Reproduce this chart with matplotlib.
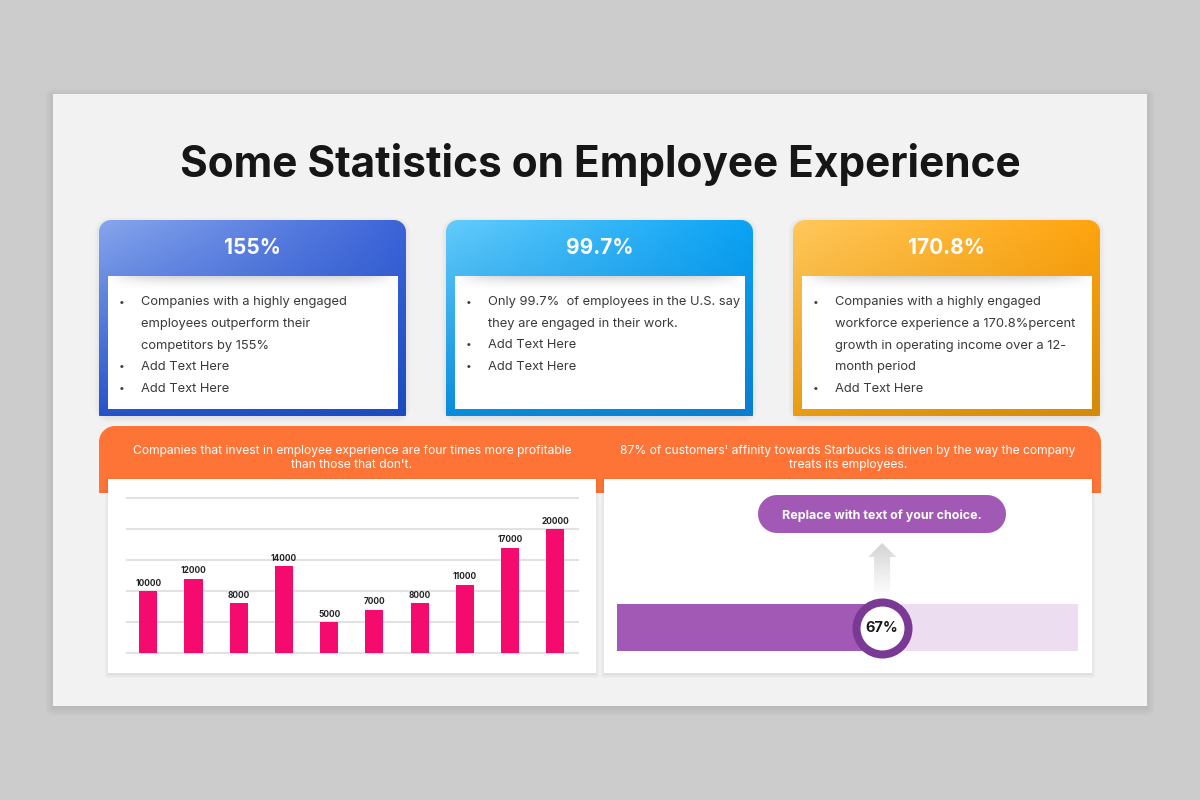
import numpy as np
import matplotlib
matplotlib.use("Agg")
import matplotlib.pyplot as plt
from matplotlib.patches import Polygon
from matplotlib.colors import to_rgba

plt.rcParams['font.family'] = ['Inter', 'DejaVu Sans']

# ---------------- data ----------------
title = "Some Statistics on Employee Experience"
card_titles = ["155%", "99.7%", "170.8%"]
card1_lines = [(True, "Companies with a highly engaged"), (False, "employees outperform their"),
               (False, "competitors by 155%"), (True, "Add Text Here"), (True, "Add Text Here")]
card2_lines = [(True, "Only 99.7%  of employees in the U.S. say"), (False, "they are engaged in their work."),
               (True, "Add Text Here"), (True, "Add Text Here")]
card3_lines = [(True, "Companies with a highly engaged"), (False, "workforce experience a 170.8%percent"),
               (False, "growth in operating income over a 12-"), (False, "month period"),
               (True, "Add Text Here")]
band_texts = ["Companies that invest in employee experience are four times more profitable\nthan those that don't.",
              "87% of customers' affinity towards Starbucks is driven by the way the company\ntreats its employees."]
bar_categories = np.arange(10)
bar_values = [10000, 12000, 8000, 14000, 5000, 7000, 8000, 11000, 17000, 20000]
bar_ticks = [0, 5000, 10000, 15000, 20000, 25000]
progress_value = 67
progress_label = "67%"
button_text = "Replace with text of your choice."

# ---------------- styles ----------------
card_grads = [("#86a5ec", "#3c64d8", "#2653c9", "#1c4bc1"),
              ("#62cbfb", "#0aa3f5", "#0a8cda", "#0a7ecf"),
              ("#ffc85c", "#ffa40e", "#e99c14", "#d48a0a")]
ORANGE = "#fe7336"
PINK = "#f50b6d"
PURPLE = "#a259b6"
LIGHT_PURPLE = "#ecdef0"
RING = "#7b3996"
TEXT = "#3a3a3a"

fig = plt.figure(figsize=(12, 8), dpi=100, facecolor="#cccccc")
bg = fig.add_axes([0, 0, 1, 1])
bg.axis("off")


def rpoly(x0, y0, x1, y1, rt=0, rb=0, n=14):
    pts = []

    def arc(cx, cy, r, a0, a1):
        for a in np.linspace(np.radians(a0), np.radians(a1), n):
            pts.append((cx + r * np.cos(a), cy + r * np.sin(a)))
    arc(x0 + rt, y0 + rt, rt, 180, 270)
    arc(x1 - rt, y0 + rt, rt, 270, 360)
    arc(x1 - rb, y1 - rb, rb, 0, 90)
    arc(x0 + rb, y1 - rb, rb, 90, 180)
    return pts


def shape(pts, **kw):
    p = Polygon(pts, closed=True, **kw)
    bg.add_patch(p)
    return p


def img_clip(img, x0, y0, x1, y1, pts, z):
    im = bg.imshow(img, extent=(x0, x1, y1, y0), origin="upper", aspect="auto",
                   interpolation="bilinear", zorder=z)
    clip = Polygon(pts, closed=True, fc="none", ec="none", transform=bg.transData)
    bg.add_patch(clip)
    im.set_clip_path(clip)


def grad(pts, x0, y0, x1, y1, corners, z):
    u = np.linspace(0, 1, 64)[None, :, None]
    v = np.linspace(0, 1, 64)[:, None, None]
    tl, tr, bl, br = [np.array(to_rgba(c)) for c in corners]
    img = (1 - v) * ((1 - u) * tl + u * tr) + v * ((1 - u) * bl + u * br)
    img_clip(img, x0, y0, x1, y1, pts, z)


def soft_shadow(x0, y0, x1, y1, r=0, dy=3, steps=6, alpha=0.03, z=1):
    for i in range(steps):
        s = i * 1.5
        shape(rpoly(x0 - s, y0 - s + dy, x1 + s, y1 + s + dy, r + s, r + s),
              fc="black", ec="none", alpha=alpha, zorder=z)


# slide
soft_shadow(53, 94, 1147, 706, 0, dy=2, steps=6, alpha=0.012, z=0.5)
shape(rpoly(53, 94, 1147, 706), fc="#f2f2f2", ec="none", zorder=1)

bg.text(600, 164, title, ha="center", va="center", fontsize=30.5, fontweight="bold", color="#161616", zorder=5)

# cards
card_lines = [card1_lines, card2_lines, card3_lines]
card_x = [99, 446, 793]
for i, x0 in enumerate(card_x):
    x1 = x0 + 307
    soft_shadow(x0, 220, x1, 416, 10, dy=2, steps=4, alpha=0.015, z=1.5)
    pts = rpoly(x0, 220, x1, 416, rt=12, rb=1)
    grad(pts, x0, 220, x1, 416, card_grads[i], 2)
    shape(rpoly(x0 + 9, 276, x1 - 8, 409), fc="white", ec="none", zorder=3)
    # header shadow on white box
    u = np.linspace(-1, 1, 80)[None, :]
    v = np.linspace(0, 1, 20)[:, None]
    a = 0.25 * (1 - v) ** 2 * (1 - u ** 6)
    img = np.zeros((20, 80, 4))
    img[..., :3] = 0.35
    img[..., 3] = a
    img_clip(img, x0 + 9, 276, x1 - 8, 292, rpoly(x0 + 9, 276, x1 - 8, 292), 3.5)
    bg.text((x0 + x1) / 2, 248, card_titles[i], ha="center", va="center", fontsize=15,
            fontweight="bold", color="white", zorder=5)
    for j, (bullet, t) in enumerate(card_lines[i]):
        y = 302.5 + j * 21.5
        if bullet:
            bg.text(x0 + 23, y - 1, "•", ha="center", va="center", fontsize=7.5, color=TEXT, zorder=5)
        bg.text(x0 + 42, y, t, ha="left", va="center", fontsize=9.3, color=TEXT, zorder=5)

# orange band
shape(rpoly(99, 426, 1101, 493, rt=16, rb=0), fc=ORANGE, ec="none", zorder=2)
for (px0, px1) in [(108, 596), (604, 1092)]:
    soft_shadow(px0, 479, px1, 673, 0, dy=2, steps=3, alpha=0.025, z=2.5)
    shape(rpoly(px0, 479, px1, 673), fc="white", ec="none", zorder=3)
bg.text(352, 458, band_texts[0], ha="center", va="center", multialignment="center",
        fontsize=8.7, color="white", linespacing=1.25, zorder=5)
bg.text(848, 458, band_texts[1], ha="center", va="center", multialignment="center",
        fontsize=8.7, color="white", linespacing=1.25, zorder=5)

# bar chart
def px_axes(x0, y0, x1, y1):
    return fig.add_axes([x0 / 1200, 1 - y1 / 800, (x1 - x0) / 1200, (y1 - y0) / 800])

bax = px_axes(127, 498, 578, 653)
bax.set_facecolor("none")
for sp in bax.spines.values():
    sp.set_visible(False)
for t in bar_ticks:
    bax.axhline(t, color="#e2e2e2", lw=1.5, zorder=0, clip_on=False)
bax.bar(bar_categories, bar_values, width=0.4, color=PINK, zorder=2)
for xv, yv in zip(bar_categories, bar_values):
    bax.annotate(f"{yv}", (xv, yv), xytext=(0, 2.5), textcoords="offset points", ha="center",
                 va="bottom", fontsize=6, fontweight="bold", color="#222222")
bax.set_xlim(-0.47, 9.5)
bax.set_ylim(0, 25000)
bax.set_xticks([])
bax.set_yticks([])

# progress bar
TRACK_MAX = 116.5
pax = px_axes(617, 604, 1078, 651)
pax.set_facecolor("none")
for sp in pax.spines.values():
    sp.set_visible(False)
pax.barh(0.5, TRACK_MAX, height=1, left=0, color=LIGHT_PURPLE, zorder=1)
pax.barh(0.5, progress_value, height=1, left=0, color=PURPLE, zorder=2)
pax.scatter([progress_value], [0.5], s=1870, color=RING, zorder=3, clip_on=False, linewidths=0)
pax.scatter([progress_value], [0.5], s=1000, color="white", zorder=4, clip_on=False, linewidths=0)
pax.text(progress_value, 0.5, progress_label, ha="center", va="center", fontsize=10.5,
         fontweight="bold", color="#1a1a1a", zorder=5)
pax.set_xlim(0, TRACK_MAX)
pax.set_ylim(0, 1)
pax.set_xticks([])
pax.set_yticks([])

bg.set_xlim(0, 1200)
bg.set_ylim(800, 0)

# arrow above the marker
disp = pax.transData.transform((progress_value, 0.5))
cx, _ = bg.transData.inverted().transform(disp)
arrow = [(cx, 543), (cx + 14, 557), (cx + 8, 557), (cx + 8, 600), (cx - 8, 600), (cx - 8, 557), (cx - 14, 557)]
v = np.linspace(0, 1, 60)[:, None]
aimg = np.zeros((60, 2, 4))
aimg[..., :3] = 0.83
aimg[..., 3] = (1 - v) ** 1.2 * np.ones((1, 2))
img_clip(aimg, cx - 14, 543, cx + 14, 600, arrow, 3.6)

# button
shape(rpoly(758, 495, 1006, 533, 19, 19), fc=PURPLE, ec="none", zorder=4)
bg.text(882, 515.5, button_text, ha="center", va="center", fontsize=9, fontweight="bold",
        color="white", zorder=5)

bg.set_xlim(0, 1200)
bg.set_ylim(800, 0)
fig.savefig("out.png", dpi=100, facecolor=fig.get_facecolor())
